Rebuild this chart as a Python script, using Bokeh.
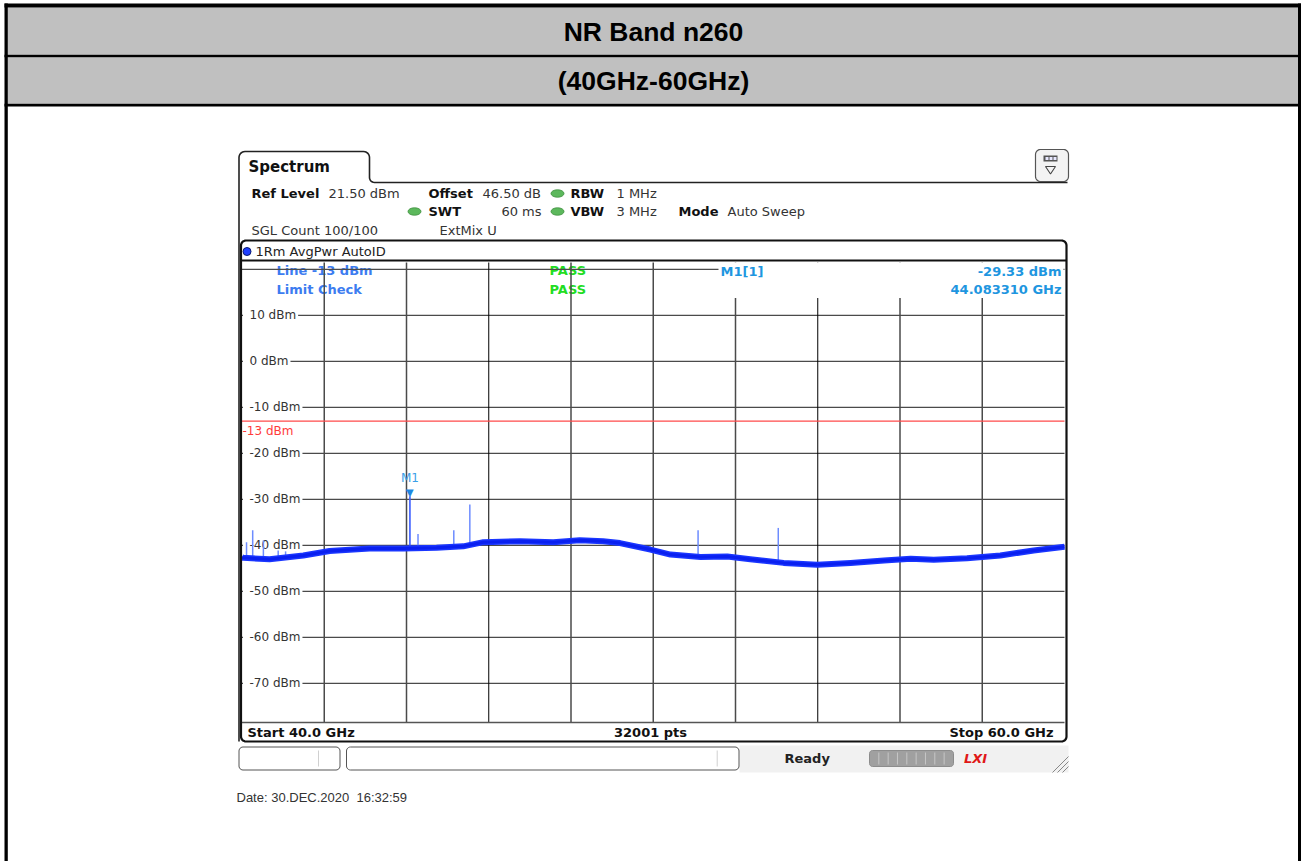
import numpy as np
from bokeh.plotting import figure
from bokeh.models import Range1d
from bokeh.core.properties import value
from bokeh.embed import file_html
from bokeh.resources import INLINE

# ---------------- data ----------------
title_lines = ["NR Band n260", "(40GHz-60GHz)"]
start_ghz = 40.0
stop_ghz = 60.0
n_points = 32001
ref_level = 21.5
offset_db = 46.50
limit_dbm = -13

trace_freq = [40.00, 40.03, 40.67, 41.49, 42.13, 43.10, 43.92, 44.73, 45.38, 45.87,
              46.76, 47.57, 48.21, 48.78, 49.19, 49.93, 50.42, 51.15, 51.80, 52.36,
              53.17, 53.99, 54.80, 55.61, 56.26, 56.82, 57.63, 58.44, 59.25, 60.00]
trace_dbm = [-42.6, -42.7, -43.0, -42.2, -41.2, -40.7, -40.7, -40.5, -40.2, -39.3,
             -39.1, -39.3, -38.9, -39.1, -39.5, -40.9, -42.0, -42.5, -42.4, -43.0,
             -43.8, -44.2, -43.8, -43.3, -42.9, -43.1, -42.8, -42.2, -41.1, -40.3]

spur_freq = [40.11, 40.26, 40.52, 40.88, 41.06, 44.28, 45.15, 45.54, 51.09, 53.04]
spur_top = [-39.3, -36.7, -38.9, -41.1, -41.3, -37.5, -36.7, -31.1, -36.7, -36.2]
spur_base = [-42.7, -42.7, -42.9, -43.0, -43.0, -40.6, -40.3, -40.2, -42.5, -43.6]

marker_freq = 44.083310
marker_dbm = -29.33
marker_base = -40.7

y_ticks = [20, 10, 0, -10, -20, -30, -40, -50, -60, -70]
y_label_ticks = [10, 0, -10, -20, -30, -40, -50, -60, -70]
y_labels = ["10 dBm", "0 dBm", "-10 dBm", "-20 dBm", "-30 dBm", "-40 dBm", "-50 dBm", "-60 dBm", "-70 dBm"]
x_ticks = [42, 44, 46, 48, 50, 52, 54, 56, 58]
x_dark_ticks = [46, 54]

date_text = "Date: 30.DEC.2020\u00a0 16:32:59"

# ---------------- layout (page pixels) ----------------
X0, Y0 = 0, 0
W, H = 1301, 861
GL, GR = 241.5, 1064.0      # grid left / right
GT, GB = 262.0, 722.0       # grid top / bottom
DB_BOTTOM = ref_level - 100

DV = "DejaVu Sans"
AR = "Liberation Sans"

p = figure(width=W, height=H, x_range=Range1d(X0, X0 + W), y_range=Range1d(Y0 + H, Y0),
           x_axis_type=None, y_axis_type=None, min_border=0, toolbar_location=None,
           output_backend="svg", background_fill_color="white", border_fill_color="white",
           outline_line_color=None)
p.grid.visible = False

px_ghz = (GR - GL) / (stop_ghz - start_ghz)
px_db = (GB - GT) / (ref_level - DB_BOTTOM)
p.extra_x_ranges = {"f": Range1d(start_ghz - (GL - X0) / px_ghz, stop_ghz + (X0 + W - GR) / px_ghz)}
p.extra_y_ranges = {"db": Range1d(DB_BOTTOM - (Y0 + H - GB) / px_db, ref_level + (GT - Y0) / px_db)}
FD = dict(x_range_name="f", y_range_name="db")


def txt(x, y, s, size=13, bold=False, color="#1a1a1a", align="left", font=DV, italic=False, **kw):
    style = "bold" if bold else "normal"
    if italic:
        style = "bold italic" if bold else "italic"
    p.text(x=[x], y=[y], text=[s], text_font=value(font), text_font_size=f"{size}px",
           text_font_style=style, text_color=color, text_align=align, text_baseline="middle", **kw)


def rrect(x0, y0, x1, y1, r, n=7):
    xs, ys = [], []
    for cx, cy, a0, a1 in [(x1 - r, y0 + r, -90, 0), (x1 - r, y1 - r, 0, 90),
                           (x0 + r, y1 - r, 90, 180), (x0 + r, y0 + r, 180, 270)]:
        t = np.radians(np.linspace(a0, a1, n))
        xs += list(cx + r * np.cos(t))
        ys += list(cy + r * np.sin(t))
    return xs, ys


def arc(cx, cy, r, a0, a1, n=7):
    t = np.radians(np.linspace(a0, a1, n))
    return list(cx + r * np.cos(t)), list(cy + r * np.sin(t))


# ---------------- table header ----------------
p.quad(left=7, right=1297.5, top=7, bottom=54.3, fill_color="#c0c0c0", line_color=None)
p.quad(left=7, right=1297.5, top=56.7, bottom=103.3, fill_color="#c0c0c0", line_color=None)
p.quad(left=4, right=1301, top=3, bottom=7, fill_color="black", line_color=None)
p.quad(left=4, right=7.3, top=3, bottom=861, fill_color="black", line_color=None)
p.quad(left=1297.5, right=1301, top=3, bottom=861, fill_color="black", line_color=None)
p.quad(left=4, right=1301, top=54.3, bottom=56.7, fill_color="black", line_color=None)
p.quad(left=4, right=1301, top=103.3, bottom=105.9, fill_color="black", line_color=None)
txt(653, 31, title_lines[0], size=26.5, bold=True, color="black", align="center", font=AR)
txt(653, 80, title_lines[1], size=26.5, bold=True, color="black", align="center", font=AR)

# ---------------- spectrum panel tab ----------------
tx, ty = [238.5], [741]
ax_, ay_ = arc(244.5, 157, 6, 180, 270); tx += ax_; ty += ay_
ax_, ay_ = arc(363, 157, 6, -90, 0); tx += ax_; ty += ay_
ax_, ay_ = arc(374, 177, 5, 180, 90); tx += ax_; ty += ay_
tx += [1067]; ty += [182]
p.line(tx, ty, line_color="#222222", line_width=1.6)
txt(248, 166.5, "Spectrum", size=15, bold=True, color="#111111")

# top-right button
bx, by = rrect(1035, 149, 1068, 181, 5)
p.patch(bx, by, fill_color="#f3f3f3", line_color="#555555", line_width=1.2)
p.quad(left=1043, right=1057, top=155, bottom=161, fill_color="#555555", line_color=None)
p.quad(left=[1045, 1049, 1053], right=[1048, 1052, 1056], top=156.5, bottom=159.5,
       fill_color="#e8e8ff", line_color=None)
p.patch([1045, 1055, 1050], [166, 166, 173.5], fill_color=None, line_color="#444444", line_width=1.1)

# info lines
txt(251, 192.5, "Ref Level", bold=True, color="#111111")
txt(328, 192.5, f"{ref_level:.2f} dBm", color="#333333")
txt(428, 192.5, "Offset", bold=True, color="#111111")
txt(482, 192.5, f"{offset_db:.2f} dB", color="#333333")
txt(570, 192.5, "RBW", bold=True, color="#111111")
txt(616, 192.5, "1 MHz", color="#333333")
txt(428, 211, "SWT", bold=True, color="#111111")
txt(541, 211, "60 ms", color="#333333", align="right")
txt(570, 211, "VBW", bold=True, color="#111111")
txt(616, 211, "3 MHz", color="#333333")
txt(678, 211, "Mode", bold=True, color="#111111")
txt(727, 211, "Auto Sweep", color="#333333")
txt(251, 230, "SGL Count 100/100", color="#333333")
txt(439, 230, "ExtMix U", color="#333333")
p.ellipse(x=[557, 414, 557], y=[193, 211, 211], width=13, height=7.5,
          fill_color="#5cb85c", line_color="#3f8f3f", line_width=0.8)

# ---------------- trace window ----------------
wx, wy = rrect(240.5, 240, 1066, 741, 5)
p.patch(wx, wy, fill_color="white", line_color=None)
p.circle(x=[246.5], y=[251], radius=4, fill_color="#1f3fff", line_color="#0a1a70", line_width=1)
txt(255, 251, "1Rm AvgPwr AutoID", color="#222222")

# limit check texts (under the grid)
txt(276, 270, f"Line {limit_dbm} dBm", bold=True, color="#3c7cf0")
txt(276, 289, "Limit Check", bold=True, color="#3c7cf0")
txt(549, 270, "PASS", bold=True, color="#22dd22")
txt(549, 289, "PASS", bold=True, color="#22dd22")

# grid
p.segment(x0=start_ghz, x1=stop_ghz, y0=y_ticks, y1=y_ticks, line_color="#4a4a4a", line_width=1.4, **FD)
light_ticks = [t for t in x_ticks if t not in x_dark_ticks]
p.segment(x0=light_ticks, x1=light_ticks, y0=DB_BOTTOM, y1=ref_level, line_color="#4a4a4a", line_width=1.5, **FD)
p.segment(x0=x_dark_ticks, x1=x_dark_ticks, y0=DB_BOTTOM, y1=ref_level, line_color="#000000", line_width=1, **FD)

# marker info box
p.quad(left=718, right=1063, top=262, bottom=297.5, fill_color="white", line_color=None)
txt(720, 271, "M1[1]", bold=True, color="#1e96e0")
txt(1061, 271, f"{marker_dbm:.2f} dBm", bold=True, color="#1e96e0", align="right")
txt(1061, 289, f"{marker_freq:.6f} GHz", bold=True, color="#1e96e0", align="right")

# limit line
p.segment(x0=[start_ghz], x1=[stop_ghz], y0=[limit_dbm], y1=[limit_dbm], line_color="#ff4a4a", line_width=1.3, **FD)
p.text(x=[GL + 0.5], y=[limit_dbm], text=[f"{limit_dbm} dBm"], y_offset=10, text_font=value(DV),
       text_font_size="12px", text_color="#ff3a3a", text_align="left", text_baseline="middle",
       y_range_name="db")

# y labels (white background hides the grid line under them)
p.quad(left=GL + 1, right=249, top=[t + 0.45 for t in y_label_ticks], bottom=[t - 0.45 for t in y_label_ticks],
       fill_color="white", line_color=None, y_range_name="db")
p.text(x=[247] * len(y_label_ticks), y=y_label_ticks, text=y_labels, text_font=value(DV),
       text_font_size="12px", text_color="#333333", text_align="left", text_baseline="middle",
       background_fill_color="white", padding=2, y_range_name="db")

# spurs and trace
p.segment(x0=spur_freq, x1=spur_freq, y0=spur_base, y1=spur_top, line_color="#6d8cff", line_width=1.5, **FD)
p.segment(x0=[marker_freq], x1=[marker_freq], y0=[marker_base], y1=[marker_dbm], line_color="#3a5cff", line_width=1.6, **FD)
p.line(trace_freq, trace_dbm, line_color="#1a36ff", line_width=6, line_join="round", **FD)
p.line(trace_freq, trace_dbm, line_color="#0a20f0", line_width=3, line_join="round", **FD)

# marker
p.text(x=[marker_freq], y=[marker_dbm], text=["\u25bc"], y_offset=-4, text_font=value(DV),
       text_font_size="10px", text_color="#1e88e0", text_align="center", text_baseline="middle", **FD)
p.text(x=[marker_freq], y=[marker_dbm], text=["M1"], y_offset=-18, text_font=value(DV),
       text_font_size="12px", text_color="#3aa0e8", text_align="center", text_baseline="middle", **FD)

# separators and footer
p.segment(x0=[241], x1=[1066], y0=[260], y1=[260], line_color="#111111", line_width=2)
p.segment(x0=[start_ghz], x1=[stop_ghz], y0=[DB_BOTTOM], y1=[DB_BOTTOM], line_color="#555555", line_width=1.5, **FD)
txt(247, 732, f"Start {start_ghz:.1f} GHz", bold=True, color="#111111")
txt(650, 732, f"{n_points} pts", bold=True, color="#111111", align="center")
txt(1053, 732, f"Stop {stop_ghz:.1f} GHz", bold=True, color="#111111", align="right")

# window outline
p.patch(wx, wy, fill_color=None, line_color="#111111", line_width=2.2)

# ---------------- status bar ----------------
p.quad(left=739, right=1068, top=745, bottom=772, fill_color="#f1f1f1", line_color=None)
f1x, f1y = rrect(238.5, 746.5, 339.5, 769.5, 4)
p.patch(f1x, f1y, fill_color="white", line_color="#555555", line_width=1)
p.segment(x0=[318], x1=[318], y0=[750], y1=[766], line_color="#d0d0d0", line_width=1)
f2x, f2y = rrect(346, 746.5, 738.5, 769.5, 4)
p.patch(f2x, f2y, fill_color="white", line_color="#555555", line_width=1)
p.segment(x0=[716.7], x1=[716.7], y0=[750], y1=[766], line_color="#d0d0d0", line_width=1)
txt(784, 757.5, "Ready", bold=True, color="#222222")
pbx, pby = rrect(869, 750, 953, 766, 3)
p.patch(pbx, pby, fill_color="#a0a0a0", line_color="#8c8c8c", line_width=1)
sep = [869 + k * 9.33 for k in range(1, 9)]
p.segment(x0=sep, x1=sep, y0=752, y1=764, line_color="#c6c6c6", line_width=1)
txt(975, 758, "LXI", size=13, bold=True, italic=True, color="#e01818", align="center")
p.segment(x0=[1052, 1057, 1062], x1=[1068, 1068, 1068], y0=[772, 772, 772], y1=[756, 761, 766],
          line_color="#888888", line_width=1)

# date
txt(236, 797, date_text, size=13, color="#333333", font=AR)

open("out.html", "w").write(file_html(p, INLINE))
